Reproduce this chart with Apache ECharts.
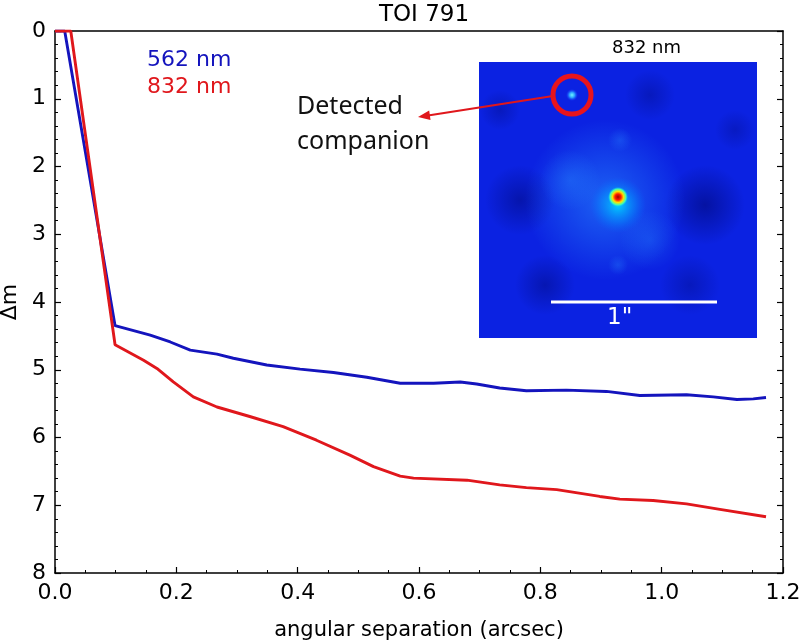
<!DOCTYPE html>
<html>
<head>
<meta charset="utf-8">
<script src="https://cdn.jsdelivr.net/npm/echarts@6/dist/echarts.min.js"></script>
<style>
  html, body { margin: 0; padding: 0; background: #fff; }
  #chart { width: 800px; height: 644px; }
</style>
</head>
<body>
<div id="chart"></div>
<script>
// contrast curves (separation in arcsec, delta mag)
var sep562 = [0, 0.016, 0.099, 0.157, 0.19, 0.223, 0.267, 0.294, 0.349, 0.404, 0.459, 0.514, 0.569, 0.624, 0.668, 0.695, 0.733, 0.777, 0.843, 0.909, 0.964, 1.041, 1.085, 1.124, 1.151, 1.172];
var dm562  = [0, 0, 4.35, 4.49, 4.59, 4.71, 4.77, 4.83, 4.93, 4.99, 5.04, 5.11, 5.20, 5.20, 5.18, 5.21, 5.27, 5.31, 5.30, 5.32, 5.38, 5.37, 5.40, 5.44, 5.43, 5.41];
var sep832 = [0, 0.026, 0.099, 0.146, 0.168, 0.195, 0.228, 0.267, 0.321, 0.376, 0.431, 0.486, 0.525, 0.569, 0.591, 0.679, 0.733, 0.777, 0.827, 0.898, 0.931, 0.986, 1.041, 1.096, 1.172];
var dm832  = [0, 0, 4.63, 4.86, 4.98, 5.18, 5.40, 5.55, 5.69, 5.84, 6.04, 6.26, 6.43, 6.57, 6.60, 6.63, 6.70, 6.74, 6.77, 6.87, 6.91, 6.93, 6.98, 7.06, 7.17];
var bands = ['562 nm', '832 nm'];
var bandColors = ['#1414bd', '#e0171c'];
var xRange = [0, 1.2];
var yRange = [0, 8];

function pairs(xs, ys) {
  return xs.map(function (x, i) { return [x, ys[i]]; });
}

var font = 'DejaVu Sans';
var chart = echarts.init(document.getElementById('chart'));

// common look for all four frame axes
function axisBase(extra) {
  var base = {
    type: 'value',
    axisLine: { show: true, onZero: false, lineStyle: { color: '#000', width: 1.5 } },
    axisTick: { show: true, inside: true, length: 6, lineStyle: { color: '#000', width: 1.2 } },
    minorTick: { show: true, length: 3, lineStyle: { color: '#000', width: 1 } },
    splitLine: { show: false },
    axisLabel: { color: '#000', fontFamily: font, fontSize: 21 }
  };
  return Object.assign(base, extra);
}

// inset speckle image (drawn as decoration)
var ix = 479, iy = 62, iw = 278, ih = 276;
function glow(cx, cy, rx, ry, stops, z) {
  return {
    type: 'ellipse', z: z || 10, silent: true,
    shape: { cx: cx, cy: cy, rx: rx, ry: ry },
    style: { fill: { type: 'radial', x: 0.5, y: 0.5, r: 0.5, colorStops: stops } }
  };
}
function dark(cx, cy, rx, ry, a) {
  return glow(cx, cy, rx, ry, [{ offset: 0, color: 'rgba(0,8,120,' + a + ')' }, { offset: 1, color: 'rgba(0,8,120,0)' }]);
}
function light(cx, cy, rx, ry, a) {
  return glow(cx, cy, rx, ry, [{ offset: 0, color: 'rgba(40,140,255,' + a + ')' }, { offset: 1, color: 'rgba(40,140,255,0)' }]);
}

var inset = [
  { type: 'text', z: 10, left: 652 - 40, top: 39,
    style: { text: '832 nm', fontFamily: font, fontSize: 18, fill: '#000', width: 80, align: 'center' } },
  { type: 'rect', z: 10, silent: true, shape: { x: ix, y: iy, width: iw, height: ih }, style: { fill: '#0b22e2' } },
  dark(705, 205, 40, 65, 0.6),
  dark(520, 200, 35, 55, 0.5),
  dark(545, 285, 45, 30, 0.45),
  dark(690, 285, 40, 30, 0.35),
  dark(650, 95, 40, 25, 0.35),
  dark(500, 110, 20, 40, 0.35),
  dark(735, 130, 20, 40, 0.3),
  light(605, 200, 80, 115, 0.6),
  light(570, 180, 30, 30, 0.35),
  light(650, 240, 30, 35, 0.3),
  light(620, 140, 12, 45, 0.3),
  light(618, 265, 10, 40, 0.3),
  glow(618, 205, 28, 42, [{ offset: 0, color: 'rgba(0,215,255,0.95)' }, { offset: 0.6, color: 'rgba(0,150,255,0.45)' }, { offset: 1, color: 'rgba(0,110,255,0)' }]),
  glow(618, 197, 10, 13, [{ offset: 0, color: '#9a0000' }, { offset: 0.3, color: '#ff1a00' }, { offset: 0.55, color: '#ffe000' }, { offset: 0.8, color: '#40ffb0' }, { offset: 1, color: 'rgba(0,200,255,0)' }]),
  glow(572, 95, 6, 6, [{ offset: 0, color: '#70f4ff' }, { offset: 0.45, color: '#2aa0ff' }, { offset: 1, color: 'rgba(20,60,255,0)' }]),
  { type: 'circle', z: 11, silent: true, shape: { cx: 572, cy: 95, r: 19 },
    style: { fill: 'none', stroke: '#e8141c', lineWidth: 5 } },
  { type: 'line', z: 11, silent: true, shape: { x1: 551, y1: 302, x2: 717, y2: 302 },
    style: { stroke: '#fff', lineWidth: 3 } },
  { type: 'text', z: 11, left: 637 - 30, top: 307,
    style: { text: '1"', fontFamily: font, fontSize: 23, fill: '#fff', width: 60, align: 'center' } },
  // annotation arrow
  { type: 'line', z: 12, silent: true, shape: { x1: 553, y1: 96, x2: 428, y2: 115.5 },
    style: { stroke: '#e0171c', lineWidth: 2 } },
  { type: 'polygon', z: 12, silent: true, shape: { points: [[418, 117], [430.5, 120], [429.2, 110.5]] },
    style: { fill: '#e0171c' } },
  { type: 'text', z: 12, left: 297, top: 89,
    style: { text: 'Detected\ncompanion', fontFamily: 'Noto Sans', fontSize: 25, lineHeight: 35, fill: '#111' } }
];

var option = {
  backgroundColor: '#fff',
  animation: false,
  title: {
    text: 'TOI 791', left: 419, top: -1, textAlign: 'center',
    textStyle: { fontFamily: font, fontSize: 23, fontWeight: 'normal', color: '#000' }
  },
  legend: {
    orient: 'vertical', left: 137, top: 44, icon: 'none', itemWidth: 0, itemGap: 5,
    selectedMode: false,
    textStyle: { fontFamily: font, fontSize: 22 },
    data: bands.map(function (b, i) { return { name: b, textStyle: { color: bandColors[i] } }; })
  },
  grid: { left: 55, right: 17, top: 31, bottom: 71, outerBoundsMode: 'none', containLabel: false },
  xAxis: [
    axisBase({
      position: 'bottom', min: xRange[0], max: xRange[1], interval: 0.2,
      minorTick: { show: true, splitNumber: 4, length: 3, lineStyle: { color: '#000', width: 1 } },
      axisLabel: { color: '#000', fontFamily: font, fontSize: 22, margin: 9,
        formatter: function (v) { return v.toFixed(1); } },
      name: 'angular separation (arcsec)', nameLocation: 'middle', nameGap: 47,
      nameTextStyle: { fontFamily: font, fontSize: 21, color: '#000' }
    }),
    axisBase({
      position: 'top', min: xRange[0], max: xRange[1], interval: 0.2,
      axisTick: { show: false }, minorTick: { show: false }, axisLabel: { show: false }
    })
  ],
  yAxis: [
    axisBase({
      position: 'left', min: yRange[0], max: yRange[1], interval: 1, inverse: true,
      minorTick: { show: true, splitNumber: 5, length: 3, lineStyle: { color: '#000', width: 1 } },
      axisLabel: { color: '#000', fontFamily: font, fontSize: 22, margin: 9 },
      name: 'Δm', nameLocation: 'middle', nameGap: 33, nameRotate: 90,
      nameTextStyle: { fontFamily: font, fontSize: 22, color: '#000' }
    }),
    axisBase({
      position: 'right', min: yRange[0], max: yRange[1], interval: 1, inverse: true,
      minorTick: { show: true, splitNumber: 5, length: 3, lineStyle: { color: '#000', width: 1 } },
      axisLabel: { show: false }
    })
  ],
  series: [
    { name: bands[0], type: 'line', data: pairs(sep562, dm562), showSymbol: false,
      lineStyle: { color: bandColors[0], width: 2.9 }, itemStyle: { color: bandColors[0] } },
    { name: bands[1], type: 'line', data: pairs(sep832, dm832), showSymbol: false,
      lineStyle: { color: bandColors[1], width: 2.9 }, itemStyle: { color: bandColors[1] } }
  ],
  graphic: inset
};

chart.setOption(option);
</script>
</body>
</html>
